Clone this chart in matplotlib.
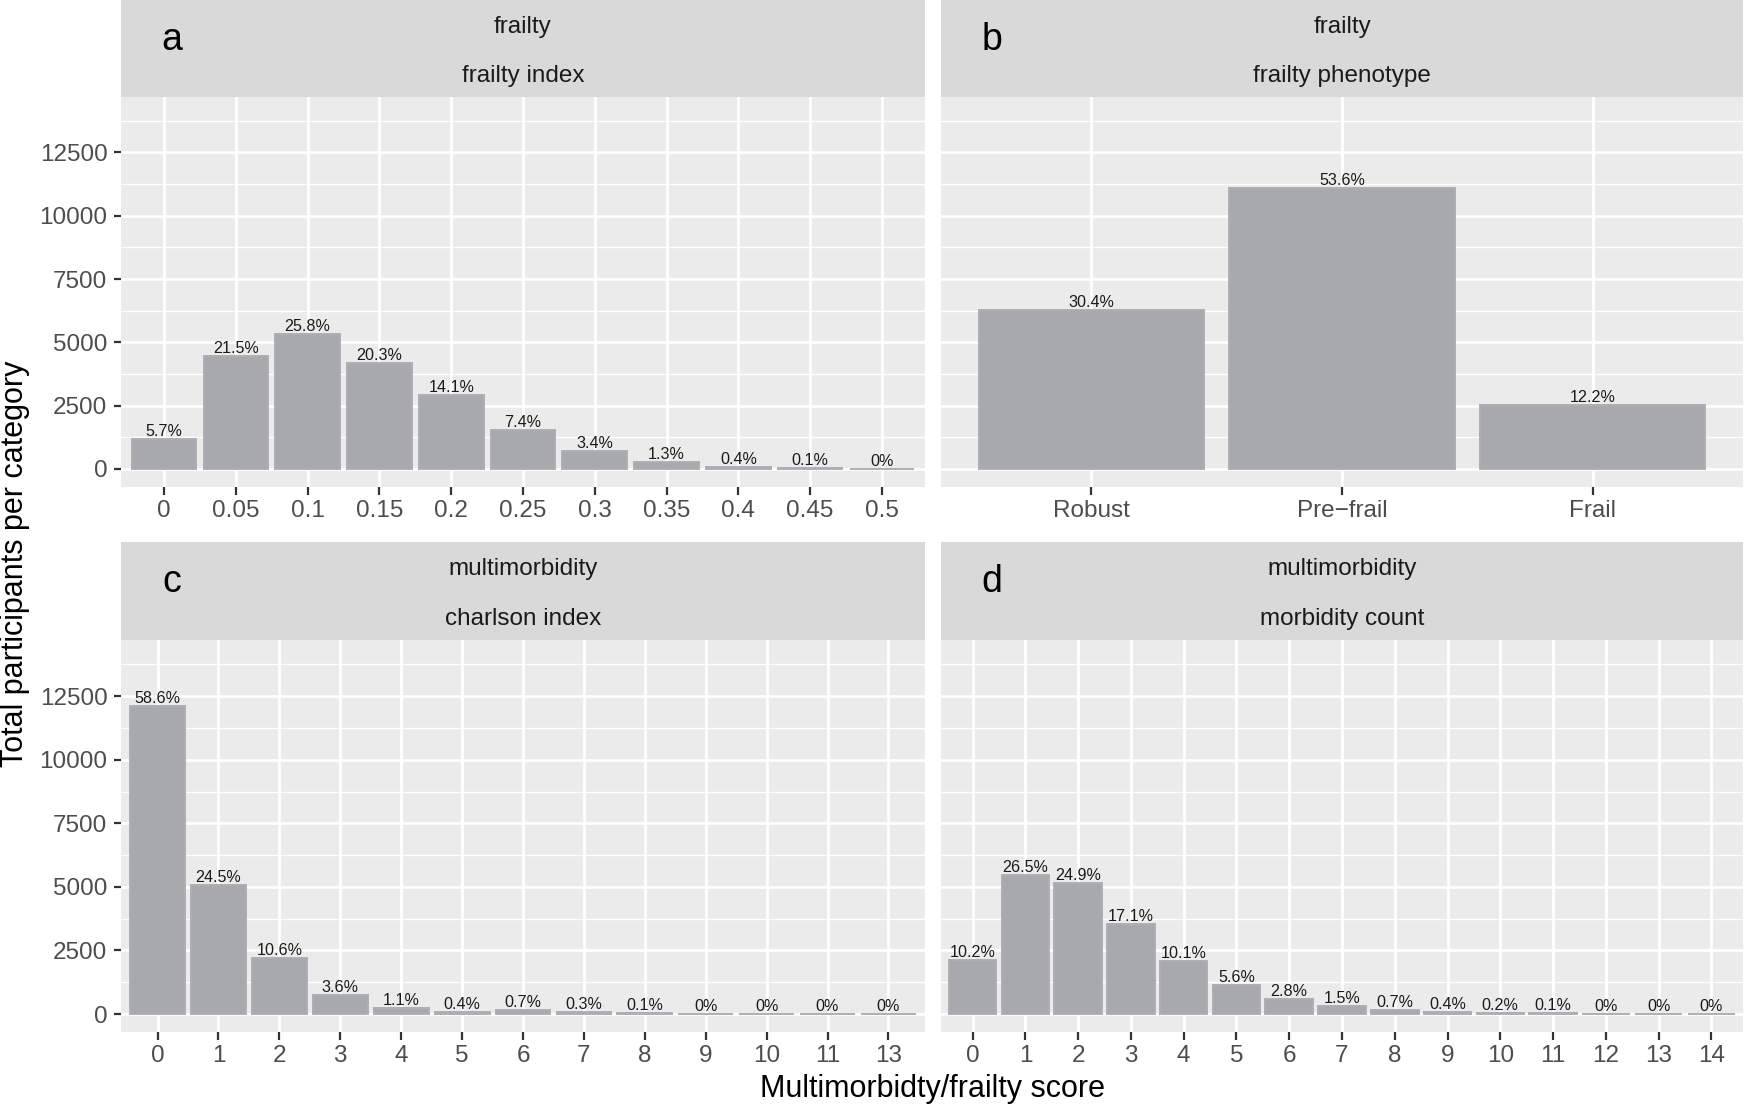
import matplotlib
matplotlib.use('Agg')
import matplotlib.pyplot as plt
from matplotlib.patches import Rectangle
from matplotlib.ticker import FixedLocator

plt.rcParams['font.family'] = ['Liberation Sans', 'DejaVu Sans']

# ---------------- data ----------------
fi_cats = ['0', '0.05', '0.1', '0.15', '0.2', '0.25', '0.3', '0.35', '0.4', '0.45', '0.5']
fi_counts = [1180, 4450, 5340, 4200, 2920, 1530, 700, 270, 85, 25, 5]
fi_labels = ['5.7%', '21.5%', '25.8%', '20.3%', '14.1%', '7.4%', '3.4%', '1.3%', '0.4%', '0.1%', '0%']

fp_cats = ['Robust', 'Pre\u2212frail', 'Frail']
fp_counts = [6290, 11095, 2525]
fp_labels = ['30.4%', '53.6%', '12.2%']

ci_cats = ['0', '1', '2', '3', '4', '5', '6', '7', '8', '9', '10', '11', '13']
ci_counts = [12130, 5070, 2195, 745, 228, 83, 145, 62, 21, 6, 4, 3, 2]
ci_labels = ['58.6%', '24.5%', '10.6%', '3.6%', '1.1%', '0.4%', '0.7%', '0.3%', '0.1%',
             '0%', '0%', '0%', '0%']

mc_cats = ['0', '1', '2', '3', '4', '5', '6', '7', '8', '9', '10', '11', '12', '13', '14']
mc_counts = [2110, 5485, 5155, 3540, 2090, 1160, 580, 310, 145, 83, 41, 21, 8, 4, 2]
mc_labels = ['10.2%', '26.5%', '24.9%', '17.1%', '10.1%', '5.6%', '2.8%', '1.5%', '0.7%',
             '0.4%', '0.2%', '0.1%', '0%', '0%', '0%']

y_major = [0, 2500, 5000, 7500, 10000, 12500]
y_minor = [1250, 3750, 6250, 8750, 11250, 13750]

# ---------------- layout ----------------
W, H = 1746, 1106
DPI = 100
fig = plt.figure(figsize=(W / DPI, H / DPI), dpi=DPI)
fig.patch.set_facecolor('white')


def rect(l, t, r, b):
    return [l / W, 1 - b / H, (r - l) / W, (b - t) / H]


BAR = '#A8A9AD'
EDGE = '#AEAFB2'
PANEL = '#EBEBEB'
STRIP = '#D9D9D9'


def panel(l, r, st, sb, ab, cats, counts, labels, t1, t2, letter, yaxis):
    ax = fig.add_axes(rect(l, sb, r, ab))
    ax.set_facecolor(PANEL)
    n = len(cats)
    x = list(range(n))
    ax.bar(x, counts, width=0.9, color=BAR, edgecolor=EDGE, linewidth=1.4, zorder=3)
    ax.set_xlim(-0.6, n - 0.4)
    ax.set_ylim(-695, 14710)
    ax.set_xticks(x)
    ax.set_xticklabels(cats)
    ax.set_yticks(y_major)
    ax.yaxis.set_minor_locator(FixedLocator(y_minor))
    ax.set_axisbelow(True)
    ax.grid(which='major', axis='both', color='white', linewidth=2.0)
    ax.grid(which='minor', axis='y', color='white', linewidth=1.0)
    for s in ax.spines.values():
        s.set_visible(False)
    ax.tick_params(axis='both', which='major', length=5.4, width=1.6, color='#333333',
                   labelcolor='#4D4D4D', labelsize=17.5, pad=4.4)
    ax.tick_params(axis='y', which='minor', length=0)
    if not yaxis:
        ax.tick_params(axis='y', which='both', left=False, labelleft=False)
    for xi, c, lab in zip(x, counts, labels):
        ax.annotate(lab, (xi, c), xytext=(0, 3), textcoords='offset pixels',
                    ha='center', va='baseline', fontsize=11.6, color='#1A1A1A', zorder=4)
    # strip
    fig.add_artist(Rectangle((l / W, 1 - sb / H), (r - l) / W, (sb - st) / H,
                             transform=fig.transFigure, facecolor=STRIP, edgecolor='none'))
    cx = (l + r) / 2 / W
    hgt = sb - st
    fig.text(cx, 1 - (st + 0.255 * hgt + 2.5) / H, t1, ha='center', va='center',
             fontsize=17.5, color='#1A1A1A')
    fig.text(cx, 1 - (st + 0.755 * hgt + 3) / H, t2, ha='center', va='center',
             fontsize=17.5, color='#1A1A1A')
    fig.text((l + 51) / W, 1 - (st + 39.5) / H, letter, ha='center', va='center',
             fontsize=27, color='black')
    return ax


L1, R1 = 121, 925
L2, R2 = 941, 1743
panel(L1, R1, 0, 96.5, 486.5, fi_cats, fi_counts, fi_labels,
      'frailty', 'frailty index', 'a', True)
panel(L2, R2, 0, 96.5, 486.5, fp_cats, fp_counts, fp_labels,
      'frailty', 'frailty phenotype', 'b', False)
panel(L1, R1, 542, 640, 1031.7, ci_cats, ci_counts, ci_labels,
      'multimorbidity', 'charlson index', 'c', True)
panel(L2, R2, 542, 640, 1031.7, mc_cats, mc_counts, mc_labels,
      'multimorbidity', 'morbidity count', 'd', False)

fig.text(15 / W, 1 - 564 / H, 'Total participants per category', rotation=90,
         ha='center', va='center', fontsize=22, color='black')
fig.text((L1 + R2) / 2 / W, 1 - 1089 / H, 'Multimorbidty/frailty score',
         ha='center', va='center', fontsize=22, color='black')

fig.savefig('out.png', dpi=DPI)
